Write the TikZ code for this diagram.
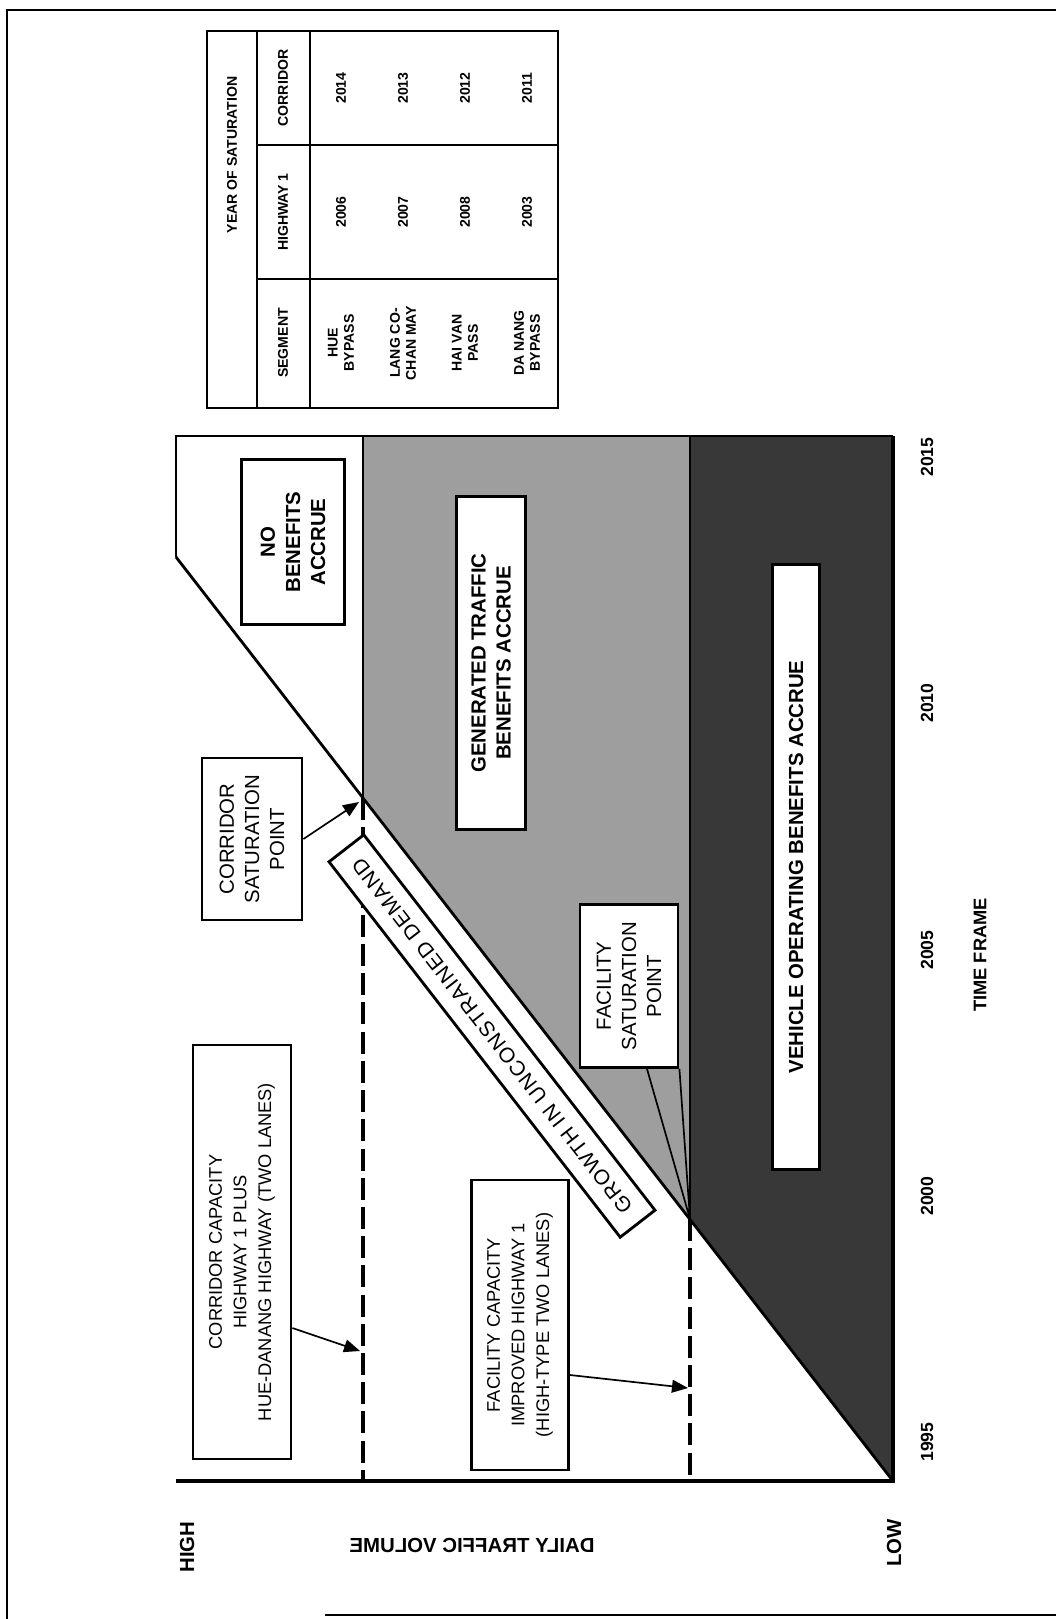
\documentclass[tikz,border=0pt]{standalone}
\usepackage{fontspec}
\setmainfont{Liberation Sans}
\newfontfamily\spacedfont[LetterSpace=6]{Liberation Sans}
\usetikzlibrary{arrows.meta}

\begin{document}
\begin{tikzpicture}[x=0.025cm,y=-0.025cm,
    box/.style={draw,line width=2pt,fill=white,align=center,inner sep=0pt},
    up/.style={rotate=90},
    tag/.style={rotate=90,inner sep=0pt,font=\fontsize{14.5}{17}\selectfont\bfseries},
    year/.style={rotate=90,inner sep=0pt,font=\fontsize{12.5}{15}\selectfont\bfseries},
    cell/.style={rotate=90,align=center,inner sep=0pt,font=\fontsize{10}{11.5}\selectfont\bfseries},
    small/.style={font=\fontsize{13}{17.5}\selectfont},
    big/.style={font=\fontsize{14.5}{17.8}\selectfont},
    bigb/.style={font=\fontsize{14.5}{17.8}\selectfont\bfseries},
    arr/.style={line width=1.2pt,-{Triangle[length=0.4cm,width=0.32cm]}},
    capline/.style={line width=3.2pt,dash pattern=on 0.55cm off 0.18cm}]
  \useasboundingbox (0,0) rectangle (1056,1619);
  % frame of the page
  \draw[line width=2pt] (1056,10) -- (7,10) -- (7,1619);
  \draw[line width=1.5pt] (325,1615) -- (1056,1615);

  % benefit areas
  \coordinate (orig) at (893,1481);
  \coordinate (corrSat) at (363,798);
  \coordinate (facSat) at (690,1219);
  \coordinate (demTop) at (176,557);
  \fill[black!78] (orig) -- (facSat) -- (690,436) -- (893,436) -- cycle;
  \fill[black!38] (facSat) -- (corrSat) -- (363,436) -- (690,436) -- cycle;
  \draw[line width=1.5pt] (demTop) -- (176,436) -- (893,436);
  \draw[line width=2pt] (orig) -- (demTop);
  \draw[line width=2pt] (363,436) -- (corrSat);
  \draw[line width=2pt] (690,436) -- (facSat);
  \draw[capline] (corrSat) -- (corrSat |- orig);
  \draw[capline] (facSat) -- (facSat |- orig);
  \draw[line width=3pt] (176,1481) -- (orig) -- (893,436);

  % labels in the chart
  \node[box,up,bigb,minimum width=4.125cm,minimum height=2.575cm] (noBen) at (293,542) {NO\\BENEFITS\\ACCRUE};
  \node[box,up,bigb,minimum width=8.325cm,minimum height=1.725cm] (genTraf) at (491,663) {GENERATED TRAFFIC\\BENEFITS ACCRUE};
  \node[box,up,bigb,minimum width=15.125cm,minimum height=1.175cm] (vehOp) at (796,867) {VEHICLE OPERATING BENEFITS ACCRUE};
  \node[box,up,big,minimum width=4.05cm,minimum height=2.5cm] (satCorr) at (252,839) {CORRIDOR\\SATURATION\\POINT};
  \node[box,up,big,minimum width=4.075cm,minimum height=2.45cm] (satFac) at (629,986) {FACILITY\\SATURATION\\POINT};
  \node[box,up,small,minimum width=10.35cm,minimum height=2.45cm] (capCorr) at (242,1252) {CORRIDOR CAPACITY\\HIGHWAY 1 PLUS\\HUE-DANANG HIGHWAY (TWO LANES)};
  \node[box,up,small,minimum width=7.25cm,minimum height=2.425cm] (capFac) at (520,1325) {FACILITY CAPACITY\\IMPROVED HIGHWAY 1\\(HIGH-TYPE TWO LANES)};
  \node[box,rotate=127.8,minimum width=11.875cm,minimum height=1.1cm,font=\spacedfont\fontsize{15}{18}\selectfont] (demand) at (492,1036) {GROWTH IN UNCONSTRAINED DEMAND};

  % pointers
  \coordinate (corrTip) at (360,1351);
  \coordinate (facTip) at (688,1388);
  \coordinate (satTip) at (359,802);
  \draw[arr] ([yshift=-1.9cm]capCorr.south) -- (corrTip);
  \draw[arr] ([yshift=-1.25cm]capFac.south) -- (facTip);
  \draw[arr] (satCorr.south) -- (satTip);
  \draw[line width=1.2pt] ([xshift=0.45cm]satFac.west) -- (facSat) -- (satFac.south west);

  % axes
  \node[tag] (high) at (187,1547) {HIGH};
  \node[tag] (low) at (894,1543) {LOW};
  \node[inner sep=0pt,xscale=-1,font=\fontsize{14.5}{17}\selectfont\bfseries] (volume) at (472,1545) {DAILY TRAFFIC VOLUME};
  \node[year] (y1995) at (927,1442) {1995};
  \node[year] (y2000) at (927,1196) {2000};
  \node[year] (y2005) at (927,950) {2005};
  \node[year] (y2010) at (927,703) {2010};
  \node[year] (y2015) at (927,457) {2015};
  \node[tag,font=\fontsize{13}{15}\selectfont\bfseries] (timeFrame) at (980,955) {TIME FRAME};

  % year of saturation table
  \draw[line width=1.5pt] (207,31) rectangle (558,408);
  \draw[line width=1pt] (257,31) -- (257,408);
  \draw[line width=1.5pt] (310,31) -- (310,408);
  \draw[line width=1pt] (257,279) -- (558,279);
  \draw[line width=1pt] (257,145) -- (558,145);
  \node[cell] (yos) at (232,155) {YEAR OF SATURATION};
  \node[cell] (seg) at (283,343) {SEGMENT};
  \node[cell] (hw) at (283,212) {HIGHWAY 1};
  \node[cell] (cor) at (283,88) {CORRIDOR};
  \node[cell] (hue) at (341,343) {HUE\\BYPASS};
  \node[cell] (hueHw) at (341,212) {2006};
  \node[cell] (hueCor) at (341,88) {2014};
  \node[cell] (lang) at (403,343) {LANG CO-\\CHAN MAY};
  \node[cell] (langHw) at (403,212) {2007};
  \node[cell] (langCor) at (403,88) {2013};
  \node[cell] (hai) at (465,343) {HAI VAN\\PASS};
  \node[cell] (haiHw) at (465,212) {2008};
  \node[cell] (haiCor) at (465,88) {2012};
  \node[cell] (dan) at (527,343) {DA NANG\\BYPASS};
  \node[cell] (danHw) at (527,212) {2003};
  \node[cell] (danCor) at (527,88) {2011};
\end{tikzpicture}
\end{document}
